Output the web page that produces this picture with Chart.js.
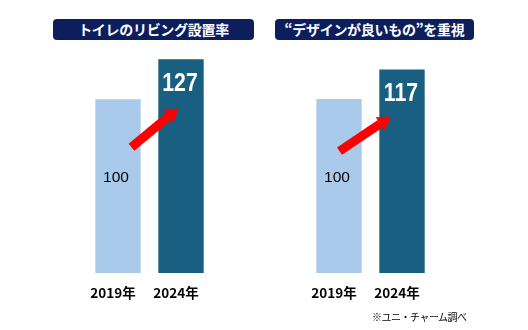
<!DOCTYPE html>
<html lang="ja">
<head>
<meta charset="utf-8">
<script src="https://cdn.jsdelivr.net/npm/chart.js@4/dist/chart.umd.min.js"></script>
<style>
  html, body { margin: 0; padding: 0; background: #fff; }
  body { width: 528px; height: 330px; position: relative; overflow: hidden; font-family: "Noto Sans CJK JP", sans-serif; }
  .title {
    position: absolute; height: 21px; line-height: 21px; background: #0c1f5c; color: #fff;
    border-radius: 4px; text-align: center; font-weight: bold; font-size: 14px; letter-spacing: -0.3px;
  }
  .box { position: absolute; top: 40px; width: 140px; height: 275px; }
  .note { position: absolute; left: 372px; top: 309px; font-size: 10px; color: #000; letter-spacing: -0.5px; }
</style>
</head>
<body>
<div class="title" style="left:53px; top:19px; width:201px;">トイレのリビング設置率</div>
<div class="title" style="left:275px; top:19px; width:199px;">“デザインが良いもの”を重視</div>
<div class="box" style="left:80px;"><canvas id="c1"></canvas></div>
<div class="box" style="left:301px;"><canvas id="c2"></canvas></div>
<div class="note">※ユニ・チャーム調べ</div>
<script>
// data
const years = ['2019年', '2024年'];
const livingRate = [100, 127];     // トイレのリビング設置率 (2019 = 100)
const designFocus = [100, 117];    // “デザインが良いもの”を重視 (2019 = 100)
const barColors = ['#a9caeb', '#185f82'];

// value labels + red arrow from the 2019 bar to the 2024 bar (offsets from bar tops)
const arrowPlugin = {
  id: 'arrowAndLabels',
  afterDatasetsDraw(chart, args, opts) {
    const ctx = chart.ctx;
    const bars = chart.getDatasetMeta(0).data;
    const vals = chart.data.datasets[0].data;
    const b1 = bars[0], b2 = bars[1];

    ctx.save();
    ctx.textAlign = 'center';
    ctx.textBaseline = 'middle';
    ctx.fillStyle = '#000';
    ctx.font = '15.5px "Liberation Sans", Arial, sans-serif';
    ctx.fillText(String(vals[0]), b1.x - 2, b1.y + 79);

    // big number, squeezed a bit to look like a narrow face
    ctx.save();
    ctx.translate(b2.x - 1, b2.y + 25);
    ctx.scale(0.85, 1);
    ctx.fillStyle = '#fff';
    ctx.font = 'bold 25px "Liberation Sans", Arial, sans-serif';
    ctx.fillText(String(vals[1]), 0, 0);
    ctx.restore();

    // arrow
    const x0 = b1.x + opts.tail[0], y0 = b1.y + opts.tail[1];
    const x1 = b2.x + opts.tip[0], y1 = b2.y + opts.tip[1];
    const ang = Math.atan2(y1 - y0, x1 - x0);
    const headLen = 13, headW = 8;
    const bx = x1 - headLen * Math.cos(ang), by = y1 - headLen * Math.sin(ang);
    ctx.strokeStyle = '#ff0000';
    ctx.fillStyle = '#ff0000';
    ctx.lineWidth = 9;
    ctx.beginPath();
    ctx.moveTo(x0, y0);
    ctx.lineTo(bx, by);
    ctx.stroke();
    ctx.beginPath();
    ctx.moveTo(x1, y1);
    ctx.lineTo(bx + headW * Math.sin(ang), by - headW * Math.cos(ang));
    ctx.lineTo(bx - headW * Math.sin(ang), by + headW * Math.cos(ang));
    ctx.closePath();
    ctx.fill();
    ctx.restore();
  }
};

function makeChart(id, values, yMin, yMax, tail, tip) {
  return new Chart(document.getElementById(id), {
    type: 'bar',
    data: {
      labels: years,
      datasets: [{ data: values, base: yMin, backgroundColor: barColors, borderWidth: 0 }]
    },
    options: {
      responsive: true,
      maintainAspectRatio: false,
      animation: false,
      layout: { padding: { left: 6.5, right: 7.5, top: 0, bottom: 0 } },
      plugins: {
        legend: { display: false },
        tooltip: { enabled: false },
        arrowAndLabels: { tail, tip }
      },
      scales: {
        x: {
          grid: { display: false, drawTicks: false },
          border: { display: false },
          categoryPercentage: 1,
          barPercentage: 50 / 63,
          afterFit: (s) => { s.height = 42; },
          ticks: {
            color: '#000', padding: 12, labelOffset: -5,
            font: { family: '"Noto Sans CJK JP", sans-serif', size: 13.5, weight: 'bold' }
          }
        },
        y: { display: false, min: yMin, max: yMax }
      }
    },
    plugins: [arrowPlugin]
  });
}

makeChart('c1', livingRate, -17.5, 140, [13.5, 48], [-2.5, 49]);
makeChart('c2', designFocus, 0, 134, [0.5, 52], [-11, 47]);
</script>
</body>
</html>
